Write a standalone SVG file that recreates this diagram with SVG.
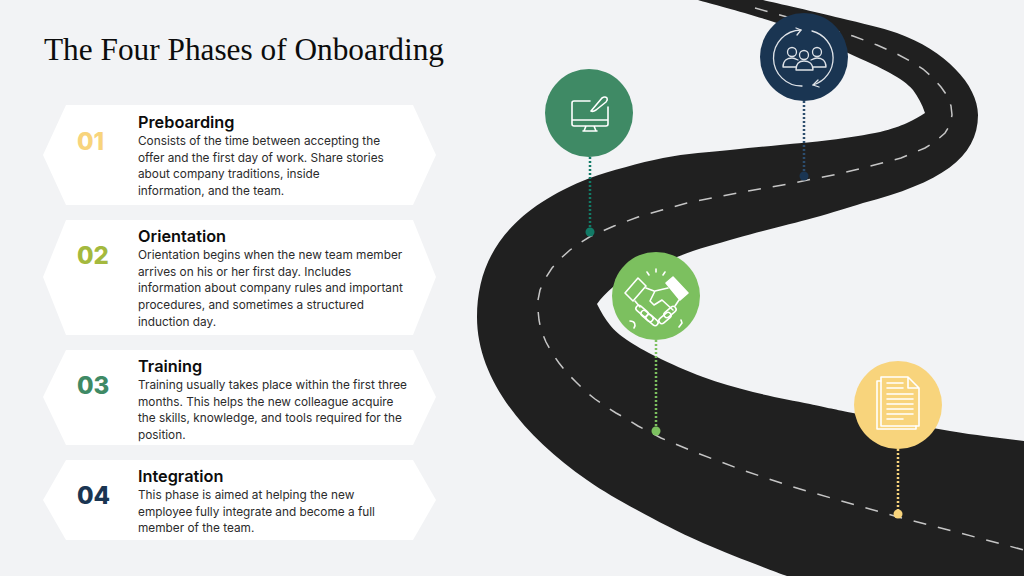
<svg xmlns="http://www.w3.org/2000/svg" width="1024" height="576" viewBox="0 0 1024 576">
<style>
.title{font-family:"Liberation Serif",serif;font-size:31px;fill:#0c0c0c}
.num{font-family:Inter,"Liberation Sans",sans-serif;font-size:24px;font-weight:800}
.head{font-family:Inter,"Liberation Sans",sans-serif;font-size:16.3px;font-weight:600;fill:#0c0c0c}
.body{font-family:Inter,"Liberation Sans",sans-serif;font-size:11.8px;fill:#2b2b2b}
.hex{fill:#fff}
.ic{fill:none;stroke:#fff;stroke-width:1.6;stroke-linejoin:round;stroke-linecap:round}
.pin{stroke-width:2.5;stroke-dasharray:2 2;fill:none}
</style>
<rect width="1024" height="576" fill="#f2f3f5"/>
<g id="road">
<path fill="#202020" d="M698 0L763 0C776 3 817.7 12.5 840 18C862.3 23.5 880.8 27.2 897 33C945 50 978 85 978 115C978 158 940 183 863 203C846.3 208.2 834 212.2 813 218C792 223.8 759.7 231.5 737 238C714.3 244.5 697.7 248.8 677 257C656.3 265.2 626.3 279.2 613 287C607 292 601 298 597 304C601 312 605 319 610 325C615 331 619.2 334.7 627 340C634.8 345.3 644.3 350.8 657 357C669.7 363.2 687 371.2 703 377C719 382.8 735.2 387.5 753 392C770.8 396.5 793.3 400.5 810 404C826.7 407.5 829.7 408.5 853 413C876.3 417.5 921.5 426.3 950 431C978.5 435.7 1000 438 1024 441V576H787C773 571 728 554 703 543C678 532 656.3 520.5 637 510C617.7 499.5 603.7 491.7 587 480C525 437 477 380 477 317C477 258 508 210 590 178C610 171 639.7 162.7 663 158C686.3 153.3 710.5 152.2 730 150C749.5 147.8 763.3 146.7 780 145C796.7 143.3 813.3 142.2 830 140C846.7 137.8 867.2 134.8 880 132C892.8 128.8 899.5 126.2 907 123C914 120 920 116 925 113C922 104 918 97 913 90C907.2 83.3 900.8 79.2 890 73C879.2 66.8 865.8 61 848 53C830.2 45 808 33.8 783 25C758 16.2 712 4 698 0Z"/>
<polyline fill="none" stroke="#c6c6c6" stroke-width="1.5" stroke-dasharray="13 12" points="755,8 805,22 853,36 877,45 897,54 912,62 923,69 932,77 941,87 948,97 951,106 952,115 950,125 945,133 936,141 925,148 913,153 901,158 882,163 863,168 838,174 813,179 788,184 737,193 687,203 662,210 638,217 614,226 591,236 580,243 570,250 560,259 552,268 545,279 540,290 538,300 538,310 539,320 541,330 546,342 552,353 559,363 567,373 576,382 585,391 595,399 605,406 616,413 627,419 638,426 650,432 661,438 673,443 685,448 697,453 721,462 745,471 769,479 793,487 845,502 898,517 960,533 1024,550"/>
</g>
<g id="connectors">
<path class="pin" stroke="#127a66" d="M590 157V232"/><circle cx="590" cy="232" r="4.5" fill="#127a66"/>
<path class="pin" stroke="#2c4d6e" d="M804 101V176"/><circle cx="804" cy="176" r="4.5" fill="#1a3552"/>
<path class="pin" stroke="#7cc05f" d="M656 340V431"/><circle cx="656" cy="431" r="4.5" fill="#7cc05f"/>
<path class="pin" stroke="#f8d47c" d="M898 449V514"/><circle cx="898" cy="514" r="4.5" fill="#f8d47c"/>
</g>
<text class="title" x="44" y="60" textLength="400" lengthAdjust="spacingAndGlyphs">The Four Phases of Onboarding</text>
<g id="phase-01">
<path class="hex" d="M43 155L66 105H413L436 155L413 205H66Z"/>
<text class="num" x="77" y="150" fill="#f8d47c">01</text>
<text class="head" x="138" y="128">Preboarding</text>
<text class="body" x="138" y="145">Consists of the time between accepting the</text>
<text class="body" x="138" y="162">offer and the first day of work. Share stories</text>
<text class="body" x="138" y="178">about company traditions, inside</text>
<text class="body" x="138" y="195">information, and the team.</text>
</g>
<g id="phase-02">
<path class="hex" d="M43 277L66 220H413L436 277L413 335H66Z"/>
<text class="num" x="77" y="264" fill="#a4b93e">02</text>
<text class="head" x="138" y="242">Orientation</text>
<text class="body" x="138" y="259">Orientation begins when the new team member</text>
<text class="body" x="138" y="276">arrives on his or her first day. Includes</text>
<text class="body" x="138" y="292">information about company rules and important</text>
<text class="body" x="138" y="309">procedures, and sometimes a structured</text>
<text class="body" x="138" y="326">induction day.</text>
</g>
<g id="phase-03">
<path class="hex" d="M43 397L66 350H413L436 397L413 445H66Z"/>
<text class="num" x="77" y="394" fill="#3f8a65">03</text>
<text class="head" x="138" y="372">Training</text>
<text class="body" x="138" y="389">Training usually takes place within the first three</text>
<text class="body" x="138" y="406">months. This helps the new colleague acquire</text>
<text class="body" x="138" y="422">the skills, knowledge, and tools required for the</text>
<text class="body" x="138" y="439">position.</text>
</g>
<g id="phase-04">
<path class="hex" d="M43 500L66 460H413L436 500L413 540H66Z"/>
<text class="num" x="77" y="504" fill="#1a3552">04</text>
<text class="head" x="138" y="482">Integration</text>
<text class="body" x="138" y="499">This phase is aimed at helping the new</text>
<text class="body" x="138" y="516">employee fully integrate and become a full</text>
<text class="body" x="138" y="532">member of the team.</text>
</g>
<g id="icon-preboarding">
<circle cx="589" cy="113" r="44" fill="#3f8a65"/>
<path class="ic" d="M590 101H574Q572 101 572 103V124Q572 126 574 126H606Q608 126 608 124V107M572 120H608M586 126L584 131H596L594 126M583 131H597"/>
<path class="ic" d="M591 111L602 98Q605 96 607 98Q608 100 606 102L596 110Q593 112 591 111Z"/>
</g>
<g id="icon-team">
<circle cx="804" cy="57" r="44" fill="#1a3552"/>
<g class="ic" style="stroke:#dfe3e8;stroke-width:1.3">
<path d="M801 30A28 28 0 0 0 802 86M812 31A28 28 0 0 1 813 85"/>
<path d="M796 28L801 30L797 35M818 80L813 85L819 87"/>
<circle cx="792" cy="52" r="4.5"/><circle cx="804" cy="55" r="4.5"/><circle cx="817" cy="52" r="4.5"/>
<path d="M783 67C783 60 788 58 792 58C794 58 796 59 798 60M826 67C826 60 821 58 817 58C815 58 813 59 811 60M783 67H796M813 67H826M796 70C796 63 800 61 804 61C808 61 813 63 813 70Z"/>
</g>
</g>
<g id="icon-handshake">
<circle cx="656" cy="296" r="44" fill="#7cc05f"/>
<g class="ic">
<path d="M625 293L638 278L646 286L633 301Z"/>
<path fill="#fff" d="M666 283L673 277L688 293L680 300Z"/>
<path d="M646 288L654 291M668 288L655 291L650 301L654 305L662 300L673 310M679 300L675 306M635 301L640 307"/>
<rect x="635" y="308" width="14" height="6" rx="3" transform="rotate(40 642 311)"/>
<rect x="640" y="313" width="14" height="6" rx="3" transform="rotate(40 647 316)"/>
<rect x="645" y="317" width="14" height="6" rx="3" transform="rotate(40 652 320)"/>
<rect x="663" y="309" width="14" height="6" rx="3" transform="rotate(-40 670 312)"/>
<rect x="658" y="315" width="14" height="6" rx="3" transform="rotate(-40 665 318)"/>
<path d="M656 269V272M647 272L649 275M665 272L663 275M630 321C635 321 636 325 634 328M679 327L682 323L681 320"/>
</g>
</g>
<g id="icon-document">
<circle cx="898" cy="405" r="44" fill="#f8d47c"/>
<g class="ic" stroke-width="1.2">
<path d="M908 377H881V426H919V388ZM908 377V388H919"/>
<path d="M881 381H877V429H916V426"/>
<path d="M887 383H903M887 388H903M887 394H913M887 399H913M887 404H913M887 409H913M887 414H913M887 419H903"/>
</g>
</g>
</svg>
